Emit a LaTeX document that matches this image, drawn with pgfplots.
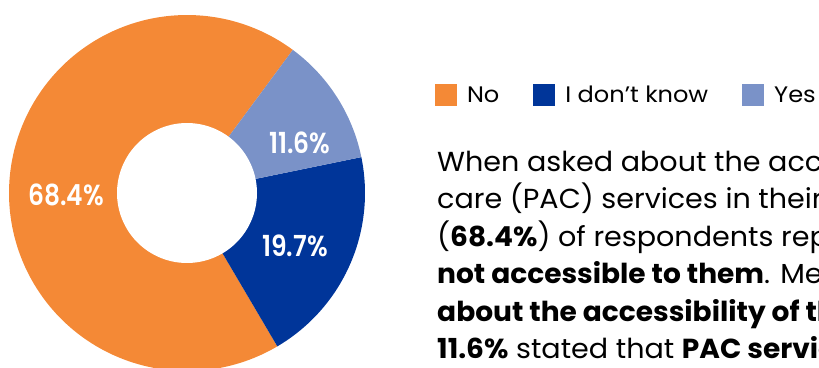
\documentclass[border=0pt]{standalone}
\usepackage{pgfplots}
\pgfplotsset{compat=1.18}
\usepackage{fontspec}
\setmainfont{Poppins}
\newfontfamily\labfont[FakeStretch=0.86]{Poppins SemiBold}
\newfontfamily\legfont[FakeStretch=1.075]{Poppins}
\newfontfamily\bodyfont[FakeStretch=1.04, BoldFont={Poppins Bold}, BoldFeatures={FakeStretch=1.02}]{Poppins}
\definecolor{cNo}{RGB}{244,137,54}
\definecolor{cDK}{RGB}{0,53,153}
\definecolor{cYes}{RGB}{122,146,200}
\newcommand\tightlines{\lineskiplimit=-100pt\relax\lineskip=0pt\relax}
% data (percent)
\def\vNo{68.4}
\def\vDK{19.7}
\def\vYes{11.6}
\begin{document}
\begin{tikzpicture}
\pgfmathsetmacro\k{360/(\vNo+\vDK+\vYes)}
\pgfmathsetmacro\aZero{-59.5}
\pgfmathsetmacro\aOne{\aZero+\vDK*\k}
\pgfmathsetmacro\aTwo{\aOne+\vYes*\k}
\pgfmathsetmacro\aEnd{\aZero+360}
\useasboundingbox (0,0) rectangle (819pt,367pt);
\clip (0,0) rectangle (819pt,367pt);
\begin{axis}[at={(0,0)}, anchor=south west,
  width=819pt, height=367pt, scale only axis,
  xmin=0, xmax=819, ymin=0, ymax=367, y dir=reverse,
  hide axis, clip=false,
  legend columns=3,
  legend image code/.code={\fill[#1] (0pt,-11pt) rectangle (22pt,11pt);},
  legend style={draw=none, fill=none, at={(axis cs:435,95)}, anchor=west,
    font=\legfont\fontsize{22.4}{23}\selectfont,
    inner sep=0pt, outer sep=0pt,
    nodes={inner sep=0pt},
    /tikz/every odd column/.append style={column sep=10pt},
    /tikz/every even column/.append style={column sep=34pt}},
]
\addplot[fill=cNo, draw=none, domain=\aTwo:\aEnd, samples=150, variable=\t]
  ({187+178*cos(\t)}, {193-178*sin(\t)}) -- (axis cs:187,193) -- cycle;
\addlegendentry{No}
\addplot[fill=cDK, draw=none, domain=\aZero:\aOne, samples=60, variable=\t]
  ({187+178*cos(\t)}, {193-178*sin(\t)}) -- (axis cs:187,193) -- cycle;
\addlegendentry{I don’t know}
\addplot[fill=cYes, draw=none, domain=\aOne:\aTwo, samples=40, variable=\t]
  ({187+178*cos(\t)}, {193-178*sin(\t)}) -- (axis cs:187,193) -- cycle;
\addlegendentry{Yes}
\addplot[fill=white, draw=none, domain=0:360, samples=120, variable=\t, forget plot]
  ({187+70*cos(\t)}, {193-70*sin(\t)}) -- cycle;
\node[text=white, font=\labfont\fontsize{29}{29}\selectfont] at (axis cs:66,195) {68.4\%};
\node[text=white, font=\labfont\fontsize{29}{29}\selectfont] at (axis cs:300,143) {11.6\%};
\node[text=white, font=\labfont\fontsize{29}{29}\selectfont] at (axis cs:295,246) {19.7\%};
\node[anchor=north west, align=left, inner sep=0pt,
  font={\bodyfont\fontsize{27.5}{37.5}\selectfont\tightlines}] at (axis cs:437,150)
{When asked about the accessibility of post-abortion\\
care (PAC) services in their community, the majority\\
(\textbf{68.4\%}) of respondents reported that \textbf{PAC services are}\\
\textbf{not accessible to them}. Meanwhile, \textbf{19.7\% did not know}\\
\textbf{about the accessibility of these services}, while only\\
\textbf{11.6\%} stated that \textbf{PAC services are accessible}.};
\end{axis}
\end{tikzpicture}
\end{document}
